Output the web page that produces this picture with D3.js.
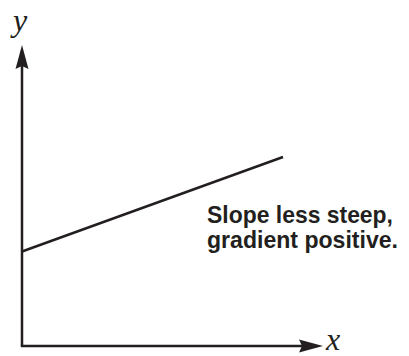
<!DOCTYPE html>
<html>
<head>
<meta charset="utf-8">
<script src="https://cdn.jsdelivr.net/npm/d3@7"></script>
<style>
  body { margin: 0; background: #fff; }
</style>
</head>
<body>
<script>
var width = 409,
    height = 356;

// line end points (chart units)
var lineX = [0, 8.7];
var lineY = [3.15, 6.3];
var noteLines = ["Slope less steep,", "gradient positive."];
var noteWidths = [186, 191];
var axisLabels = ["x", "y"];

var ink = "#231f20";

var x = d3.scaleLinear().domain([0, 10]).range([22, 322]);
var y = d3.scaleLinear().domain([0, 10]).range([346, 46]);

var svg = d3.select("body").append("svg")
    .attr("width", width)
    .attr("height", height);

// axes
svg.append("line")
    .attr("x1", x(0)).attr("y1", y(0))
    .attr("x2", x(0)).attr("y2", y(10) + 18)
    .attr("stroke", ink).attr("stroke-width", 2.5);

svg.append("line")
    .attr("x1", x(0) - 1.2).attr("y1", y(0))
    .attr("x2", x(10) - 18).attr("y2", y(0))
    .attr("stroke", ink).attr("stroke-width", 2.5);

// arrow heads
var tipY = [x(0), y(10) - 1];
svg.append("path")
    .attr("d", "M" + tipY[0] + "," + tipY[1] +
               "L" + (tipY[0] + 6.5) + "," + (tipY[1] + 24) +
               "L" + tipY[0] + "," + (tipY[1] + 21) +
               "L" + (tipY[0] - 6.5) + "," + (tipY[1] + 24) + "Z")
    .attr("fill", ink);

var tipX = [x(10) + 1, y(0)];
svg.append("path")
    .attr("d", "M" + tipX[0] + "," + tipX[1] +
               "L" + (tipX[0] - 24) + "," + (tipX[1] + 6.5) +
               "L" + (tipX[0] - 21) + "," + tipX[1] +
               "L" + (tipX[0] - 24) + "," + (tipX[1] - 6.5) + "Z")
    .attr("fill", ink);

// axis letters
svg.append("text")
    .attr("x", x(10) + 4).attr("y", y(0) + 4)
    .attr("font-family", "'Liberation Serif', 'DejaVu Serif', serif")
    .attr("font-style", "italic")
    .attr("font-size", 32)
    .attr("fill", ink)
    .text(axisLabels[0]);

svg.append("text")
    .attr("x", x(0) - 9).attr("y", 31)
    .attr("font-family", "'Liberation Serif', 'DejaVu Serif', serif")
    .attr("font-style", "italic")
    .attr("font-size", 32)
    .attr("fill", ink)
    .text(axisLabels[1]);

// the straight line
var pts = lineX.map(function(d, i) { return [d, lineY[i]]; });
svg.append("path")
    .datum(pts)
    .attr("d", d3.line()
        .x(function(d) { return x(d[0]); })
        .y(function(d) { return y(d[1]); }))
    .attr("fill", "none")
    .attr("stroke", ink)
    .attr("stroke-width", 2.5);

// note
svg.selectAll(".note")
    .data(noteLines)
    .enter().append("text")
    .attr("class", "note")
    .attr("x", 207)
    .attr("y", function(d, i) { return 223 + i * 25; })
    .attr("font-family", "'Liberation Sans', Arial, sans-serif")
    .attr("font-weight", "bold")
    .attr("font-size", 24)
    .attr("textLength", function(d, i) { return noteWidths[i]; })
    .attr("lengthAdjust", "spacingAndGlyphs")
    .attr("fill", ink)
    .text(function(d) { return d; });
</script>
</body>
</html>
